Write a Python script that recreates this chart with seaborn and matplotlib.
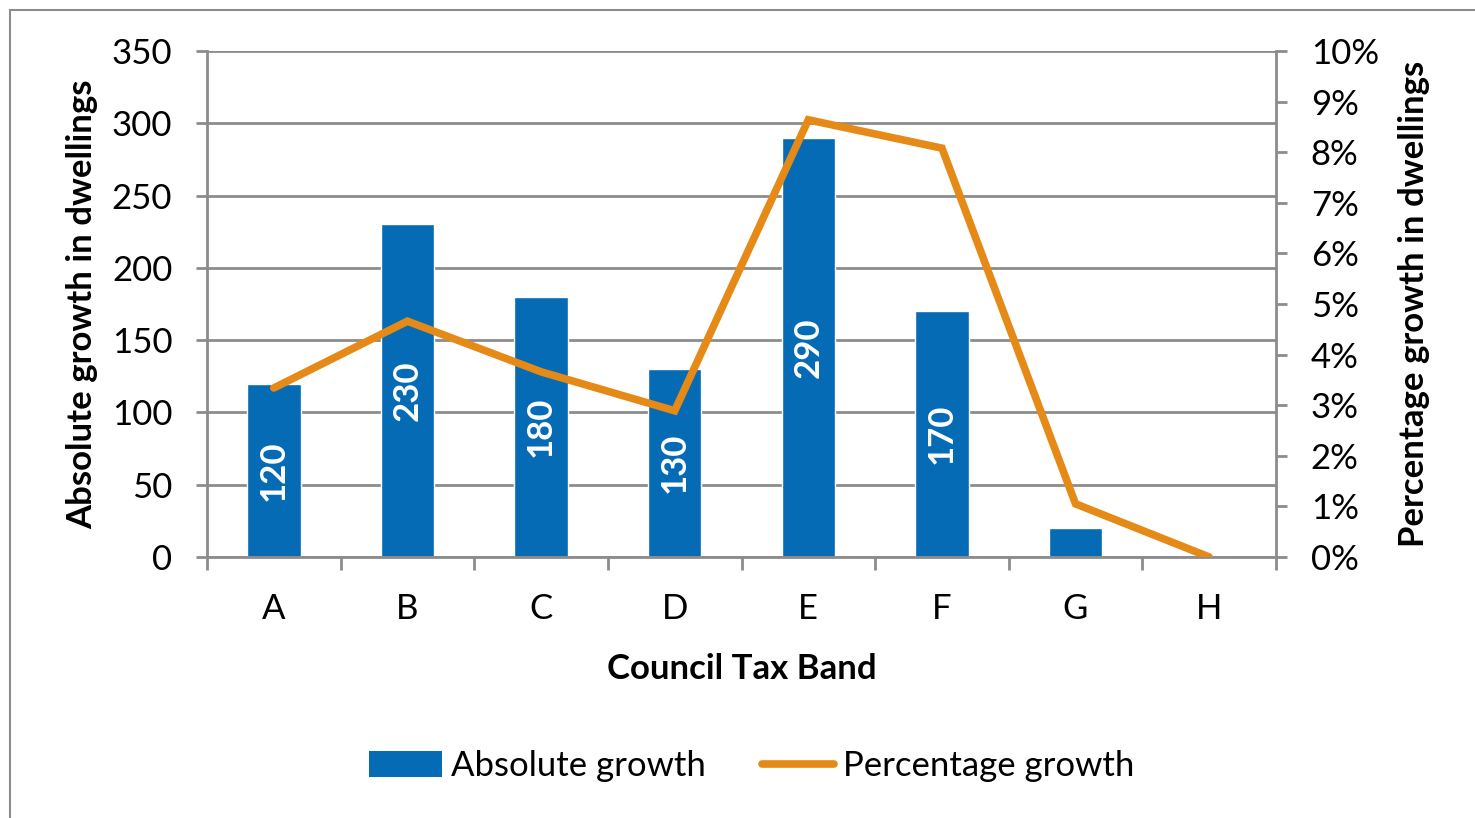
import matplotlib
matplotlib.use("Agg")
import matplotlib.pyplot as plt
import seaborn as sns
import numpy as np
import pandas as pd
from matplotlib.patches import Rectangle, Patch
from matplotlib.lines import Line2D
from matplotlib.ticker import FixedLocator, FuncFormatter

bands = ["A", "B", "C", "D", "E", "F", "G", "H"]
absolute_growth = [120, 230, 180, 130, 290, 170, 20, 0]
percentage_growth = [3.34, 4.66, 3.66, 2.89, 8.64, 8.08, 1.05, 0.0]
left_ticks = [0, 50, 100, 150, 200, 250, 300, 350]
right_ticks = [0, 1, 2, 3, 4, 5, 6, 7, 8, 9, 10]

BLUE = "#056BB5"
ORANGE = "#E68A17"
GRAY = "#8C8C8C"

sns.set_theme(style="white")
plt.rcParams["font.family"] = ["Lato", "DejaVu Sans"]
plt.rcParams["text.color"] = "black"
plt.rcParams["axes.labelcolor"] = "black"
plt.rcParams["xtick.labelcolor"] = "black"
plt.rcParams["ytick.labelcolor"] = "black"
FS = 25

df = pd.DataFrame({"band": bands, "abs": absolute_growth, "pct": percentage_growth})

fig = plt.figure(figsize=(14.75, 8.18), dpi=100)
ax = fig.add_axes([207/1475, 1-557/818, (1276-207)/1475, (557-51)/818])

sns.barplot(data=df, x="band", y="abs", color=BLUE, saturation=1, width=0.4,
            ax=ax, zorder=2)
ax.set_ylim(0, 350)
ax.yaxis.set_major_locator(FixedLocator(left_ticks))
ax.yaxis.grid(True, color=GRAY, lw=2)
ax.set_axisbelow(True)

labels = [str(v) if v >= 100 else "" for v in absolute_growth]
ax.bar_label(ax.containers[0], labels=labels, label_type="center", rotation=90,
             color="white", fontsize=FS, fontweight="bold")

ax2 = ax.twinx()
sns.pointplot(data=df, x="band", y="pct", color=ORANGE, markers="", errorbar=None,
              ax=ax2, linewidth=5.5, zorder=5)
for ln in ax2.lines:
    ln.set_linewidth(5.5)
    ln.set_solid_capstyle("round")
    ln.set_solid_joinstyle("miter")
ax2.set_ylim(0, 10)
ax2.yaxis.set_major_locator(FixedLocator(right_ticks))
ax2.yaxis.set_major_formatter(FuncFormatter(lambda v, p: f"{v:.0f}%"))

ax.set_xlim(-0.5, len(bands)-0.5)

for a in (ax, ax2):
    for s in a.spines.values():
        s.set_visible(False)
ax.spines["left"].set_visible(True)
ax.spines["bottom"].set_visible(True)
ax2.spines["right"].set_visible(True)
for s in (ax.spines["left"], ax.spines["bottom"], ax2.spines["right"]):
    s.set_color(GRAY)
    s.set_linewidth(2)

ax.set_xticks(range(len(bands)))
ax.set_xticklabels(bands)
ax.set_xticks(np.arange(-0.5, len(bands)), minor=True)
ax.tick_params(axis="x", which="major", length=0, pad=26, labelsize=FS,
               labelcolor="black", labelbottom=True)
ax.tick_params(axis="x", which="minor", length=9, width=2, color=GRAY, bottom=True)
ax.tick_params(axis="y", which="major", length=8, width=2, color=GRAY, labelsize=FS,
               labelcolor="black", left=True, pad=17)
ax2.tick_params(axis="y", which="major", length=8, width=2, color=GRAY, labelsize=FS,
                labelcolor="black", right=True, pad=17)
ax2.tick_params(axis="x", which="both", bottom=False, top=False, labelbottom=False,
                labeltop=False)
ax2.set_xlabel("")

ax.set_xlabel("Council Tax Band", fontsize=FS, fontweight="bold", labelpad=20,
              color="black")
ax.set_ylabel("Absolute growth in dwellings", fontsize=FS, fontweight="bold",
              labelpad=10, color="black")
ax2.set_ylabel("Percentage growth in dwellings", fontsize=FS, fontweight="bold",
               labelpad=14, color="black")

handles = [Patch(facecolor=BLUE, edgecolor="none"),
           Line2D([0], [0], color=ORANGE, lw=5.5, solid_capstyle="round")]
fig.legend(handles, ["Absolute growth", "Percentage growth"], loc="center",
           bbox_to_anchor=(752/1475, 1-766/818), ncol=2, frameon=False,
           fontsize=FS, handlelength=2.1, handleheight=0.75, handletextpad=0.25,
           columnspacing=1.6)

fig.patches.append(Rectangle((10/1475, -0.5), 2, 1-10/818+0.5, transform=fig.transFigure,
                             fill=False, edgecolor=GRAY, lw=1.5))

fig.savefig("out.png", dpi=100)
